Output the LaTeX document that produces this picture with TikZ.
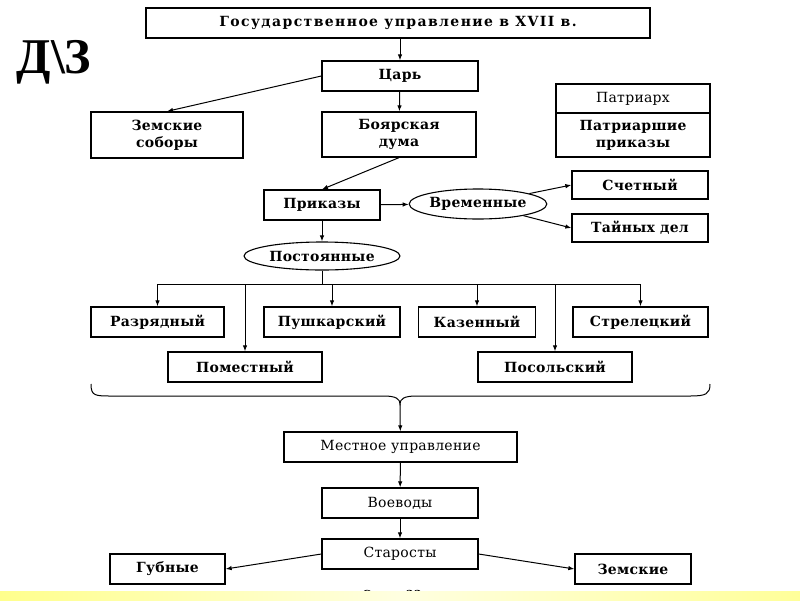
\documentclass[tikz,border=0pt]{standalone}
\usepackage{fontspec}
\setmainfont[LetterSpace=2]{DejaVu Serif}
\newfontfamily\widefont[LetterSpace=10]{DejaVu Serif}
\newfontfamily\dzfont{Liberation Serif}
\usetikzlibrary{shapes.geometric,arrows.meta}

\begin{document}
\begin{tikzpicture}[x=1pt, y=-1pt,
    box/.style={rectangle, draw=black, line width=1.3pt, inner sep=0pt, align=center,
        font=\bfseries\fontsize{14}{17}\selectfont},
    plain/.style={box, font=\fontsize{14}{17}\selectfont},
    oval/.style={ellipse, draw=black, line width=1.1pt, inner sep=0pt,
        font=\bfseries\fontsize{14}{17}\selectfont},
    arr/.style={-{Latex[length=6pt,width=4.5pt]}, line width=1pt}
]
    \useasboundingbox (0,0) rectangle (800,600);

    % Homework mark
    \node[font=\dzfont\bfseries\fontsize{50}{50}\selectfont] (dz) at (54,62) {Д\textbackslash З};

    % Central government
    \node[box, minimum width=504, minimum height=30, font=\widefont\bfseries\fontsize{14}{17}\selectfont] (title) at (398,23) {Государственное управление в XVII в.};
    \node[box, minimum width=156, minimum height=30] (tsar) at (400,76) {Царь};
    \node[box, minimum width=152, minimum height=46] (zemsob) at (167,135) {Земские\\соборы};
    \node[box, minimum width=154, minimum height=45] (duma) at (399,134.5) {Боярская\\дума};
    \node[plain, minimum width=154, minimum height=29] (patr) at (633,98.5) {Патриарх};
    \node[box, minimum width=154, minimum height=44] (patrprik) at (633,135) {Патриаршие\\приказы};

    % Prikazy
    \node[box, minimum width=116, minimum height=30] (prikazy) at (322,205) {Приказы};
    \node[oval, minimum width=132, minimum height=30] (vrem) at (478,204) {Временные};
    \node[box, minimum width=136, minimum height=28] (schet) at (640,185) {Счетный};
    \node[box, minimum width=136, minimum height=28] (tain) at (640,228) {Тайных дел};
    \node[oval, minimum width=156, minimum height=28] (post) at (322,256) {Постоянные};
    \coordinate (bus) at (322,284);

    \node[box, minimum width=133, minimum height=30] (razr) at (157.5,322) {Разрядный};
    \node[box, minimum width=136, minimum height=30] (push) at (332,322) {Пушкарский};
    \node[box, minimum width=117, minimum height=30] (kazen) at (477,322) {Казенный};
    \node[box, minimum width=135, minimum height=30] (strel) at (640.5,322) {Стрелецкий};
    \node[box, minimum width=154, minimum height=30] (pomest) at (245,367) {Поместный};
    \node[box, minimum width=154, minimum height=30] (posol) at (555,367) {Посольский};

    % Brace
    \coordinate (brl) at (91,384);
    \coordinate (brr) at (710,384);
    \coordinate (brtip) at (400,404);

    % Local government
    \node[plain, minimum width=233, minimum height=30] (mest) at (400.5,447) {Местное управление};
    \node[plain, minimum width=156, minimum height=30] (voev) at (400,503) {Воеводы};
    \node[plain, minimum width=156, minimum height=30] (star) at (400,554) {Старосты};
    \node[box, minimum width=115, minimum height=30] (gub) at (167.5,569) {Губные};
    \node[box, minimum width=116, minimum height=30] (zemsk) at (633,569) {Земские};

    % Connectors
    \draw[arr] (tsar.north |- title.south) -- (tsar.north);
    \draw[arr] (tsar) -- (duma);
    \draw[arr] (tsar.west) -- (zemsob.north);
    \draw[arr] (duma.south) -- (prikazy.north);
    \draw[arr] (prikazy) -- (vrem);
    \draw[arr] (vrem) -- (schet.west);
    \draw[arr] (vrem) -- (tain.west);
    \draw[arr] (prikazy) -- (post);
    \draw[line width=1pt] (post) -- (bus);
    \draw[line width=1pt] (razr.north |- bus) -- (strel.north |- bus);
    \foreach \n in {razr, push, kazen, strel, pomest, posol}
        \draw[arr] (\n.north |- bus) -- (\n.north);

    \draw[line width=1pt] (brl) .. controls (91,396) and (95,396) .. (112,396) -- (384,396)
        .. controls (396,396) and (400,399) .. (brtip)
        .. controls (400,399) and (404,396) .. (416,396) -- (690,396)
        .. controls (706,396) and (710,394) .. (brr);
    \draw[arr] (brtip) -- (mest);
    \draw[arr] (mest) -- (voev);
    \draw[arr] (voev) -- (star);
    \draw[arr] (star.west) -- (gub.east);
    \draw[arr] (star.east) -- (zemsk.west);

    % Bottom strip
    \node[font=\bfseries\fontsize{11}{12}\selectfont] (caption) at (392,594) {Схема 22};
    \shade[left color=yellow!45, right color=yellow!40, middle color=yellow!12] (0,591) rectangle (800,600);
\end{tikzpicture}
\end{document}
